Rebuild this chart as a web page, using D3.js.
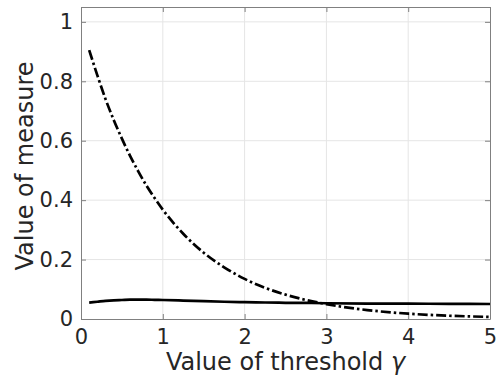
<!DOCTYPE html>
<html>
<head>
<meta charset="utf-8">
<script src="https://cdn.jsdelivr.net/npm/d3@7"></script>
<style>
  body { margin: 0; background: #fff; }
  text { font-family: "DejaVu Sans", "Noto Sans", sans-serif; fill: #262626; }
</style>
</head>
<body>
<div id="chart"></div>
<script>
// values
var xVals = [0.1, 0.2, 0.3, 0.4, 0.5, 0.6, 0.7, 0.8, 0.9, 1.0, 1.25, 1.5, 1.75, 2.0, 2.25, 2.5, 2.75, 3.0, 3.5, 4.0, 4.5, 5.0];
var dashVals = [0.905, 0.82, 0.74, 0.67, 0.607, 0.549, 0.497, 0.449, 0.407, 0.368, 0.287, 0.223, 0.174, 0.135, 0.105, 0.082, 0.064, 0.05, 0.030, 0.018, 0.011, 0.007];
var solidVals = [0.055, 0.058, 0.061, 0.063, 0.064, 0.065, 0.065, 0.065, 0.0645, 0.064, 0.062, 0.060, 0.058, 0.0565, 0.0555, 0.0545, 0.054, 0.053, 0.052, 0.0515, 0.051, 0.0505];
var xTicks = [0, 1, 2, 3, 4, 5];
var yTicks = [0, 0.2, 0.4, 0.6, 0.8, 1];

var margin = {top: 7, right: 8, bottom: 62, left: 81},
  width = 498 - margin.left - margin.right,
  height = 381 - margin.top - margin.bottom;

var svg = d3.select("#chart")
  .append("svg")
    .attr("width", 498)
    .attr("height", 381)
  .append("g")
    .attr("transform", "translate(" + margin.left + "," + margin.top + ")");

var x = d3.scaleLinear().domain([0, 5]).range([0, width]);
var y = d3.scaleLinear().domain([0, 1.05]).range([height, 0]);

// grid
svg.append("g").selectAll("line")
  .data(xTicks.slice(1, -1))
  .enter().append("line")
    .attr("x1", function(d) { return x(d); })
    .attr("x2", function(d) { return x(d); })
    .attr("y1", 0).attr("y2", height)
    .attr("stroke", "#e5e5e5").attr("stroke-width", 1);

svg.append("g").selectAll("line")
  .data(yTicks.slice(1))
  .enter().append("line")
    .attr("x1", 0).attr("x2", width)
    .attr("y1", function(d) { return y(d); })
    .attr("y2", function(d) { return y(d); })
    .attr("stroke", "#e5e5e5").attr("stroke-width", 1);

// axes (ticks inside, box on)
var xAxis = svg.append("g")
  .attr("transform", "translate(0," + height + ")")
  .call(d3.axisBottom(x).tickValues(xTicks).tickSizeInner(-5).tickSizeOuter(0).tickPadding(10)
    .tickFormat(d3.format("d")));
var yAxis = svg.append("g")
  .call(d3.axisLeft(y).tickValues(yTicks).tickSizeInner(-5).tickSizeOuter(0).tickPadding(8)
    .tickFormat(function(d) { return d === 0 ? "0" : d === 1 ? "1" : d3.format(".1f")(d); }));
svg.append("g")
  .call(d3.axisTop(x).tickValues(xTicks).tickSizeInner(-5).tickSizeOuter(0).tickFormat(""));
svg.append("g")
  .attr("transform", "translate(" + width + ",0)")
  .call(d3.axisRight(y).tickValues(yTicks).tickSizeInner(-5).tickSizeOuter(0).tickFormat(""));

svg.selectAll(".domain, .tick line").attr("stroke", "#808080");
svg.selectAll(".tick text").style("font-size", "21px").attr("fill", "#262626");
xAxis.selectAll(".tick text").attr("dy", "0.71em");

// lines
var dashData = xVals.map(function(d, i) { return {x: d, y: dashVals[i]}; });
var solidData = xVals.map(function(d, i) { return {x: d, y: solidVals[i]}; });

var line = d3.line()
  .x(function(d) { return x(d.x); })
  .y(function(d) { return y(d.y); })
  .curve(d3.curveMonotoneX);

svg.append("path")
  .datum(solidData)
  .attr("d", line)
  .attr("fill", "none")
  .attr("stroke", "#000")
  .attr("stroke-width", 2.7);

svg.append("path")
  .datum(dashData)
  .attr("d", line)
  .attr("fill", "none")
  .attr("stroke", "#000")
  .attr("stroke-width", 2.7)
  .attr("stroke-dasharray", "10,3,2.5,3");

// axis labels
svg.append("text")
  .attr("x", width / 2)
  .attr("y", height + 51)
  .style("text-anchor", "middle")
  .style("font-size", "24px")
  .html('Value of threshold <tspan font-style="italic">γ</tspan>');

svg.append("text")
  .attr("transform", "translate(" + (-48) + "," + (height / 2 + 3) + "), rotate(-90)")
  .style("text-anchor", "middle")
  .style("font-size", "24px")
  .text("Value of measure");
</script>
</body>
</html>
